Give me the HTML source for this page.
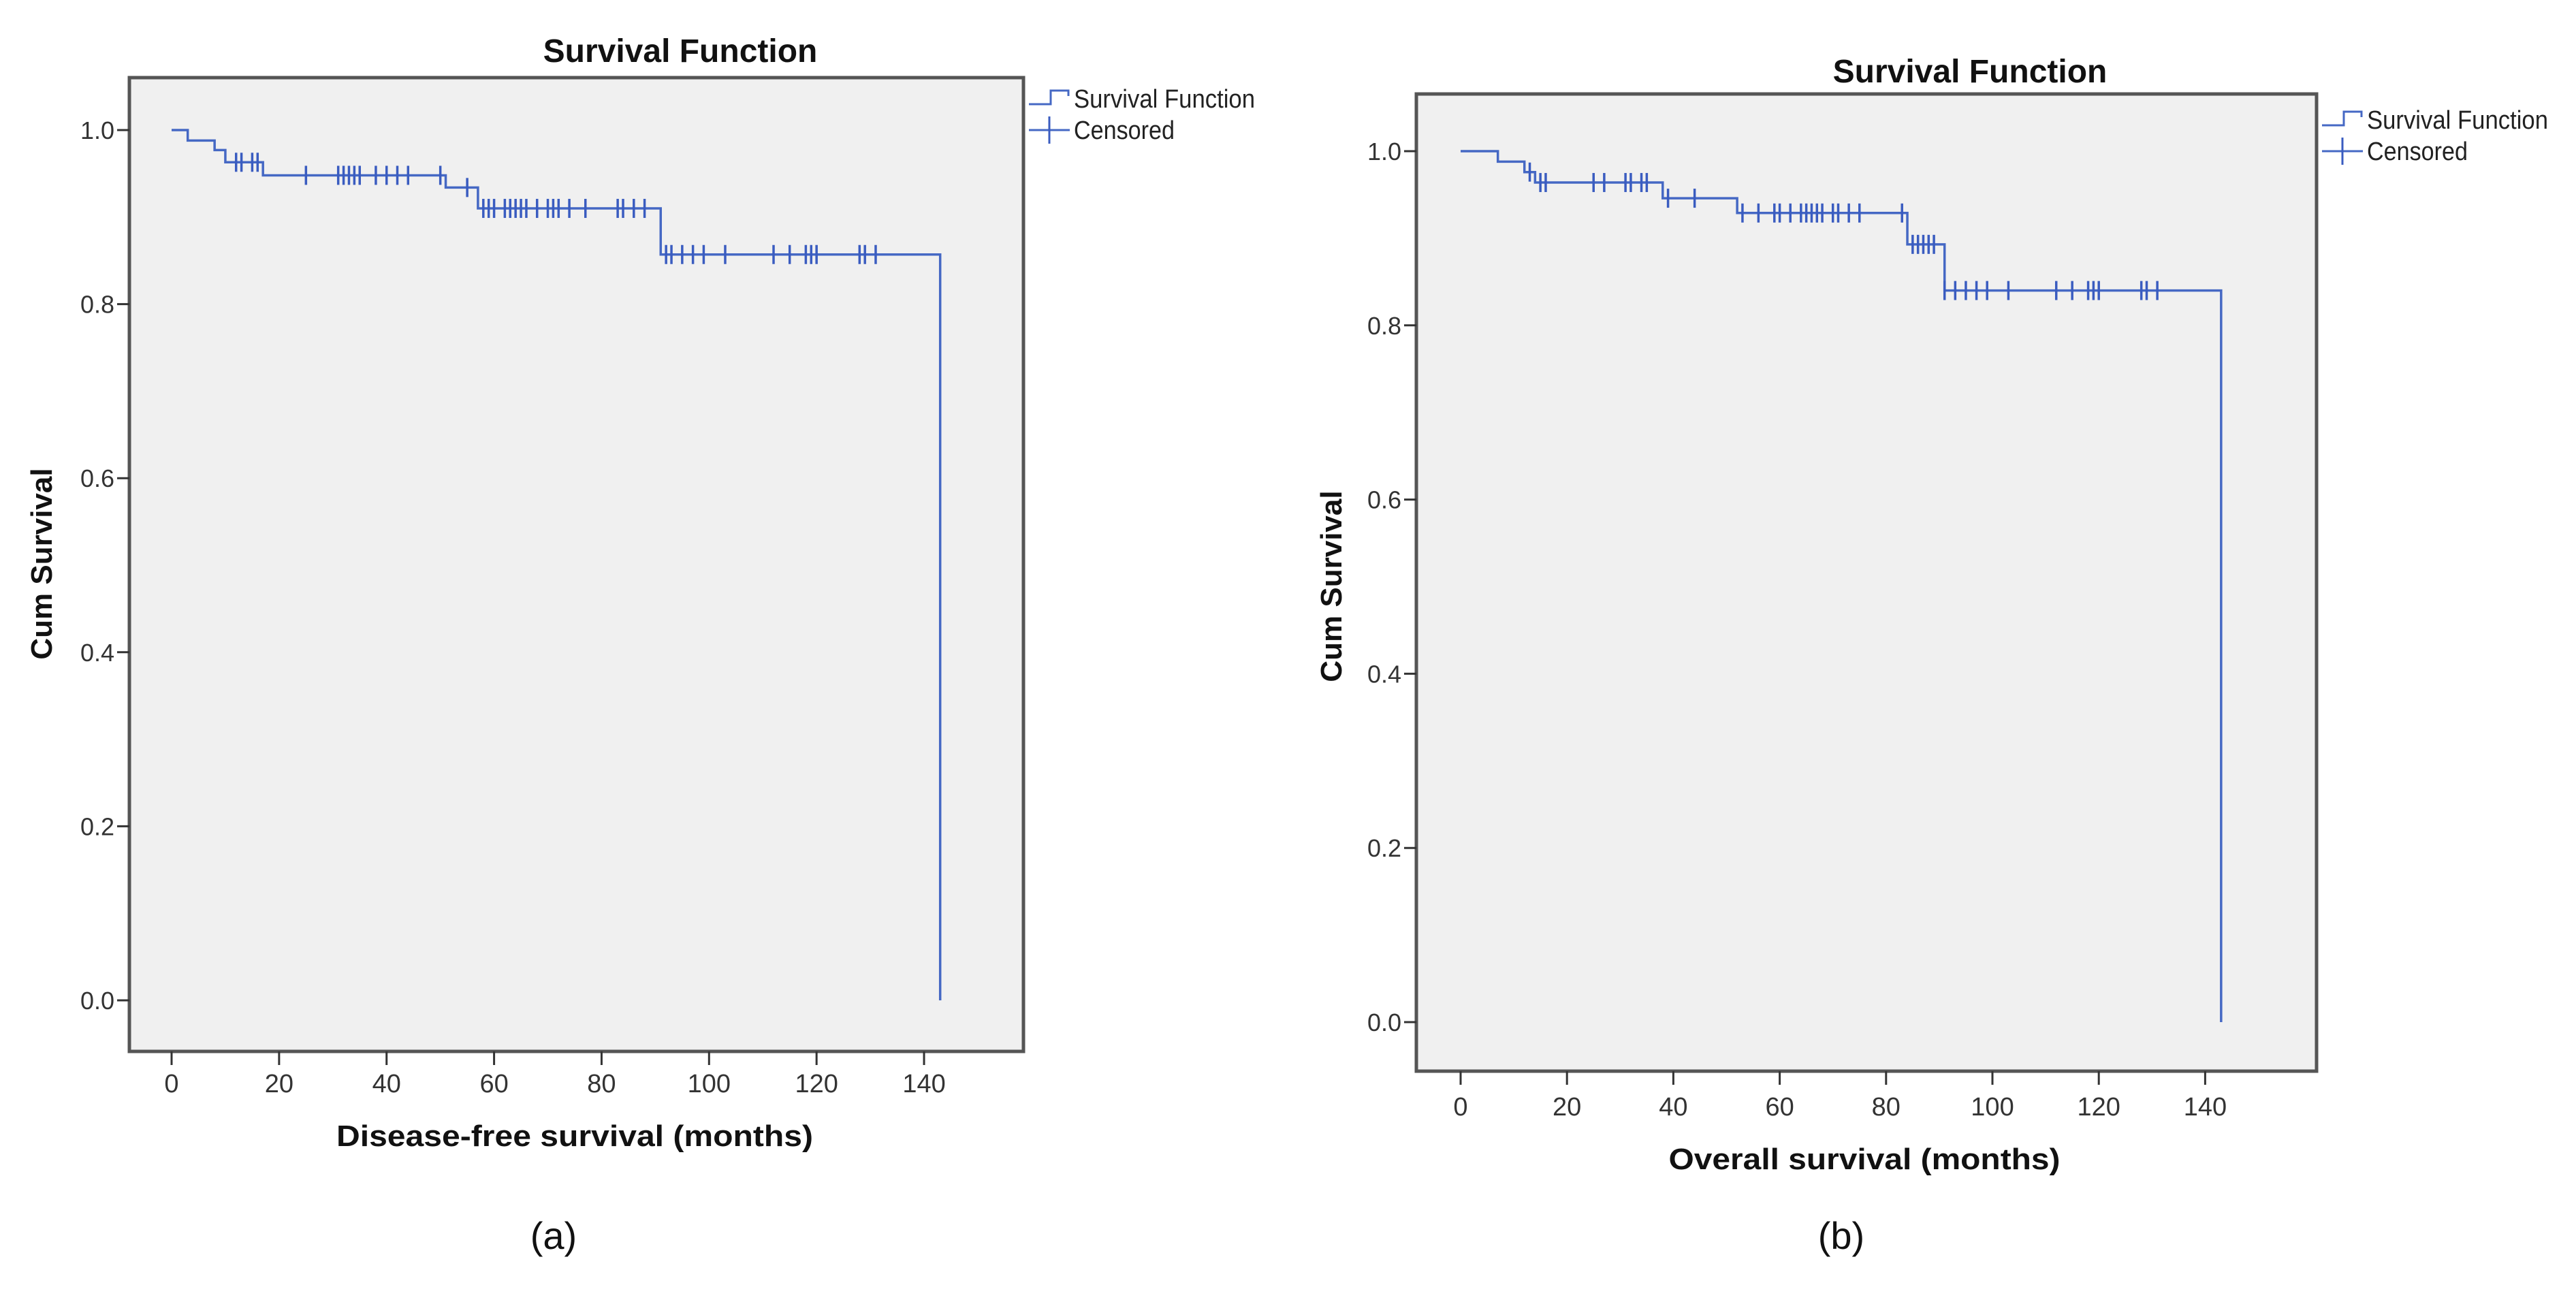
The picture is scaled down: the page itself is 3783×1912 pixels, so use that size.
<!DOCTYPE html>
<html><head><meta charset="utf-8"><style>
html,body{margin:0;padding:0;background:#fff;}
svg{display:block;font-family:"Liberation Sans",Arial,sans-serif;}
</style></head><body>
<svg id="fig" width="3783" height="1912" viewBox="0 0 3783 1912" xmlns="http://www.w3.org/2000/svg"></svg>
<script>
// ---- Panel A data (disease-free survival) ----
const aStepTimes = [0, 3, 8, 10, 17, 51, 57, 91, 143];
const aStepSurv  = [1.0, 0.988, 0.977, 0.963, 0.948, 0.934, 0.910, 0.857, 0.0];
const aCensored  = [12,13,15,16,25,31,32,33,34,35,38,40,42,44,50,55,58,59,60,62,63,64,65,66,68,70,71,72,74,77,83,84,86,88,92,93,95,97,99,103,112,115,118,119,120,128,129,131];
// ---- Panel B data (overall survival) ----
const bStepTimes = [0, 7, 12, 14, 38, 52, 84, 91, 143];
const bStepSurv  = [1.0, 0.988, 0.976, 0.964, 0.946, 0.929, 0.893, 0.840, 0.0];
const bCensored  = [13,15,16,25,27,31,32,34,35,39,44,53,56,59,60,62,64,65,66,67,68,70,71,73,75,83,85,86,87,88,89,91,93,95,97,99,103,112,115,118,119,120,128,129,131];
// ---- Axis ticks ----
const xTicks = [0,20,40,60,80,100,120,140];
const yTicks = [0.0,0.2,0.4,0.6,0.8,1.0];
const yTickLabels = ["0.0","0.2","0.4","0.6","0.8","1.0"];

const NS="http://www.w3.org/2000/svg";
const svg=document.getElementById('fig');
function mk(tag,attrs,parent){const e=document.createElementNS(NS,tag);for(const k in attrs)e.setAttribute(k,attrs[k]);(parent||svg).appendChild(e);return e;}
function txt(s,attrs,parent){const e=mk('text',attrs,parent);e.textContent=s;return e;}

function panel(cfg){
  const g=mk('g',{});
  
  
  const X=t=>cfg.x0+(t)*cfg.pxPerMonth;
  const Y=v=>cfg.y0-(v)*(cfg.y0-cfg.y1);
  const bg=mk('rect',{x:cfg.bl,y:cfg.bt,width:cfg.br-cfg.bl,height:cfg.bb-cfg.bt,fill:'#f0f0f0',stroke:'#555',"stroke-width":5},g);
  
  
  xTicks.forEach(t=>{
    mk('line',{x1:X(t),x2:X(t),y1:cfg.bb,y2:cfg.bb+20,stroke:'#333',"stroke-width":3},g);
    const l=txt(String(t),{x:X(t),y:cfg.bb+cfg.xlabOff,"font-size":38,"text-anchor":"middle",fill:'#333'},g);
    
    
  });
  yTicks.forEach((v,i)=>{
    mk('line',{x1:cfg.bl-18,x2:cfg.bl,y1:Y(v),y2:Y(v),stroke:'#333',"stroke-width":3},g);
    const l=txt(yTickLabels[i],{x:cfg.bl-22,y:Y(v)+13,"font-size":36,"text-anchor":"end",fill:'#333'},g);
    
    
  });
  let d='M'+X(cfg.times[0])+' '+Y(cfg.surv[0]);
  for(let i=1;i<cfg.times.length;i++){d+=' H'+X(cfg.times[i])+' V'+Y(cfg.surv[i]);}
  const p=mk('path',{d:d,fill:'none',stroke:'#4568c4',"stroke-width":3.5},g);
  
  
  const survAt=t=>{let s=cfg.surv[0];for(let i=0;i<cfg.times.length;i++){if(cfg.times[i]<=t)s=cfg.surv[i];}return s;};
  cfg.cens.forEach(t=>{
    const c=mk('line',{x1:X(t),x2:X(t),y1:Y(survAt(t))-14,y2:Y(survAt(t))+14,stroke:'#3a5cc0',"stroke-width":3.5},g);
    
    
  });
  const ti=txt('Survival Function',{x:cfg.titleX,y:cfg.titleY,"font-size":48,"font-weight":"bold","text-anchor":"middle",fill:'#111'},g);
  
  
  const xt=txt(cfg.xTitle,{x:cfg.xtX,y:cfg.xtY,"font-size":44,"font-weight":"bold","text-anchor":"middle",fill:'#111',textLength:cfg.xtLen,lengthAdjust:'spacingAndGlyphs'},g);
  
  
  const yt=txt('Cum Survival',{x:0,y:0,"font-size":44,"font-weight":"bold","text-anchor":"middle",fill:'#111',transform:`translate(${cfg.ytX},${cfg.ytY}) rotate(-90)`},g);
  
  
  const lg=mk('g',{},g);
  
  
  const lx=cfg.legX, l1=cfg.legY1, l2=cfg.legY2;
  mk('path',{d:`M${lx} ${l1+8} H${lx+32} V${l1-12} H${lx+58} V${l1-4}`,fill:'none',stroke:'#4568c4',"stroke-width":3},lg);
  const e1=txt('Survival Function',{x:lx+66,y:l1+13,"font-size":38,fill:'#222',textLength:266,lengthAdjust:'spacingAndGlyphs'},lg);
  
  
  mk('line',{x1:lx,x2:lx+60,y1:l2,y2:l2,stroke:'#4568c4',"stroke-width":3},lg);
  mk('line',{x1:lx+30,x2:lx+30,y1:l2-20,y2:l2+20,stroke:'#3a5cc0',"stroke-width":3},lg);
  const e2=txt('Censored',{x:lx+66,y:l2+13,"font-size":38,fill:'#222',textLength:148,lengthAdjust:'spacingAndGlyphs'},lg);
  
  
  const cap=txt(cfg.caption,{x:cfg.capX,y:1834,"font-size":56,"text-anchor":"middle",fill:'#111'},g);
  
  
}

panel({name:'panel-a',times:aStepTimes,surv:aStepSurv,cens:aCensored,
  x0:252,pxPerMonth:7.893,y0:1469,y1:191,bl:190,br:1503,bt:114,bb:1544,xlabOff:60,
  titleX:999,titleY:91,xTitle:'Disease-free survival (months)',xtX:844,xtY:1683,xtLen:700,
  ytX:76,ytY:828,legX:1511,legY1:145,legY2:191,caption:'(a)',capX:813});
panel({name:'panel-b',times:bStepTimes,surv:bStepSurv,cens:bCensored,
  x0:2145,pxPerMonth:7.81,y0:1501,y1:222,bl:2080,br:3402,bt:138,bb:1573,xlabOff:65,
  titleX:2893,titleY:121,xTitle:'Overall survival (months)',xtX:2738,xtY:1717,xtLen:575,
  ytX:1970,ytY:861,legX:3410,legY1:176,legY2:222,caption:'(b)',capX:2704});
</script>
</body></html>
